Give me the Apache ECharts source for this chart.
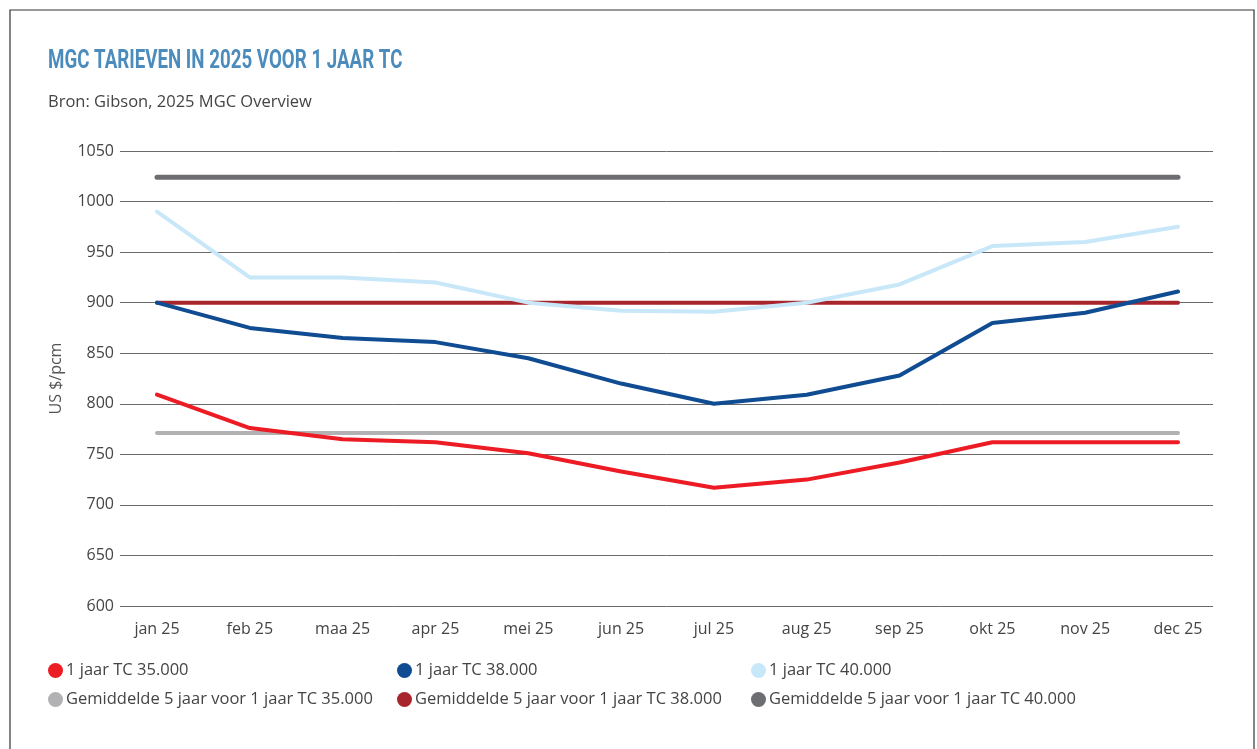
<!DOCTYPE html>
<html>
<head>
<meta charset="utf-8">
<script src="https://cdn.jsdelivr.net/npm/echarts@6/dist/echarts.min.js"></script>
<style>
  html, body { margin: 0; padding: 0; background: #fff; }
  #chart { width: 1257px; height: 749px; }
</style>
</head>
<body>
<div id="chart"></div>
<script>
const months = ['jan 25', 'feb 25', 'maa 25', 'apr 25', 'mei 25', 'jun 25', 'jul 25', 'aug 25', 'sep 25', 'okt 25', 'nov 25', 'dec 25']
const tc35 = [809, 776, 765, 762, 751, 733, 717, 725, 742, 762, 762, 762]
const tc38 = [900, 875, 865, 861, 845, 820, 800, 809, 828, 880, 890, 911]
const tc40 = [990, 925, 925, 920, 900, 892, 891, 900, 918, 956, 960, 975]
const avg35 = Array(12).fill(771)
const avg38 = Array(12).fill(900)
const avg40 = Array(12).fill(1024)
const yTicks = { min: 600, max: 1050, step: 50 }

const names = [
  '1 jaar TC 35.000', '1 jaar TC 38.000', '1 jaar TC 40.000',
  'Gemiddelde 5 jaar voor 1 jaar TC 35.000', 'Gemiddelde 5 jaar voor 1 jaar TC 38.000', 'Gemiddelde 5 jaar voor 1 jaar TC 40.000',
]
const colors = ['#ed1c24', '#0f4c92', '#c8e8f9', '#b2b2b4', '#a8252b', '#6d6e72']
const values = [tc35, tc38, tc40, avg35, avg38, avg40]
const font = '"Open Sans", sans-serif'

const chart = echarts.init(document.getElementById('chart'), null, { renderer: 'canvas' })

// one legend per item so they sit in fixed columns
const legendPos = [[48, 662], [397, 662], [751, 662], [48, 691], [397, 691], [751, 691]]
const legends = names.map((n, i) => ({
  data: [n],
  left: legendPos[i][0],
  top: legendPos[i][1],
  padding: 0,
  icon: 'circle',
  itemWidth: 15,
  itemHeight: 15,
  selectedMode: false,
  textStyle: { color: '#444', fontSize: 16.5, fontFamily: font, padding: [0, 0, 0, -2] },
}))

chart.setOption({
  backgroundColor: '#ffffff',
  animation: false,
  graphic: [
    {
      type: 'rect',
      shape: { x: 10, y: 10, width: 1244, height: 760 },
      style: { fill: 'none', stroke: '#333', lineWidth: 1.2 },
      silent: true,
    },
    {
      // condensed headline: squeeze a bold face horizontally
      type: 'text',
      left: 48,
      top: 48,
      scaleX: 0.72,
      originX: 0,
      style: { text: 'MGC TARIEVEN IN 2025 VOOR 1 JAAR TC', fill: '#4b8cbd', font: 'bold 26px Roboto, sans-serif' },
      silent: true,
    },
    {
      type: 'text',
      left: 48,
      top: 94,
      style: { text: 'Bron: Gibson, 2025 MGC Overview', fill: '#444', font: '16.5px "Open Sans", sans-serif' },
      silent: true,
    },
  ],
  legend: legends,
  grid: [
    { left: 120, right: 44, top: 151, bottom: 143 },
    { left: 157, right: 79, top: 151, bottom: 143 },
  ],
  xAxis: [
    { type: 'value', gridIndex: 0, show: false, min: 0, max: 1 },
    {
      type: 'category',
      gridIndex: 1,
      data: months,
      boundaryGap: false,
      axisLine: { show: false },
      axisTick: { show: false },
      axisLabel: { color: '#444', fontSize: 16, fontFamily: font, margin: 15, interval: 0 },
    },
  ],
  yAxis: [
    {
      type: 'value',
      gridIndex: 0,
      min: yTicks.min,
      max: yTicks.max,
      interval: yTicks.step,
      name: 'US $/pcm',
      nameLocation: 'middle',
      nameGap: 56,
      nameTextStyle: { color: '#555', fontSize: 16, fontFamily: font },
      axisLine: { show: false },
      axisTick: { show: false },
      axisLabel: { color: '#444', fontSize: 16, fontFamily: font, margin: 6, formatter: v => String(v) },
      splitLine: { lineStyle: { color: '#6a6a6a', width: 1 } },
    },
    { type: 'value', gridIndex: 1, min: yTicks.min, max: yTicks.max, show: false, splitLine: { show: false } },
  ],
  series: names.map((n, i) => ({
    name: n,
    type: 'line',
    xAxisIndex: 1,
    yAxisIndex: 1,
    data: values[i],
    symbol: 'none',
    color: colors[i],
    z: i >= 3 ? 2 + (i - 3) : 6 + i,
    lineStyle: { color: colors[i], width: i === 5 ? 5 : 4, cap: 'round', join: 'round' },
  })),
})
</script>
</body>
</html>
